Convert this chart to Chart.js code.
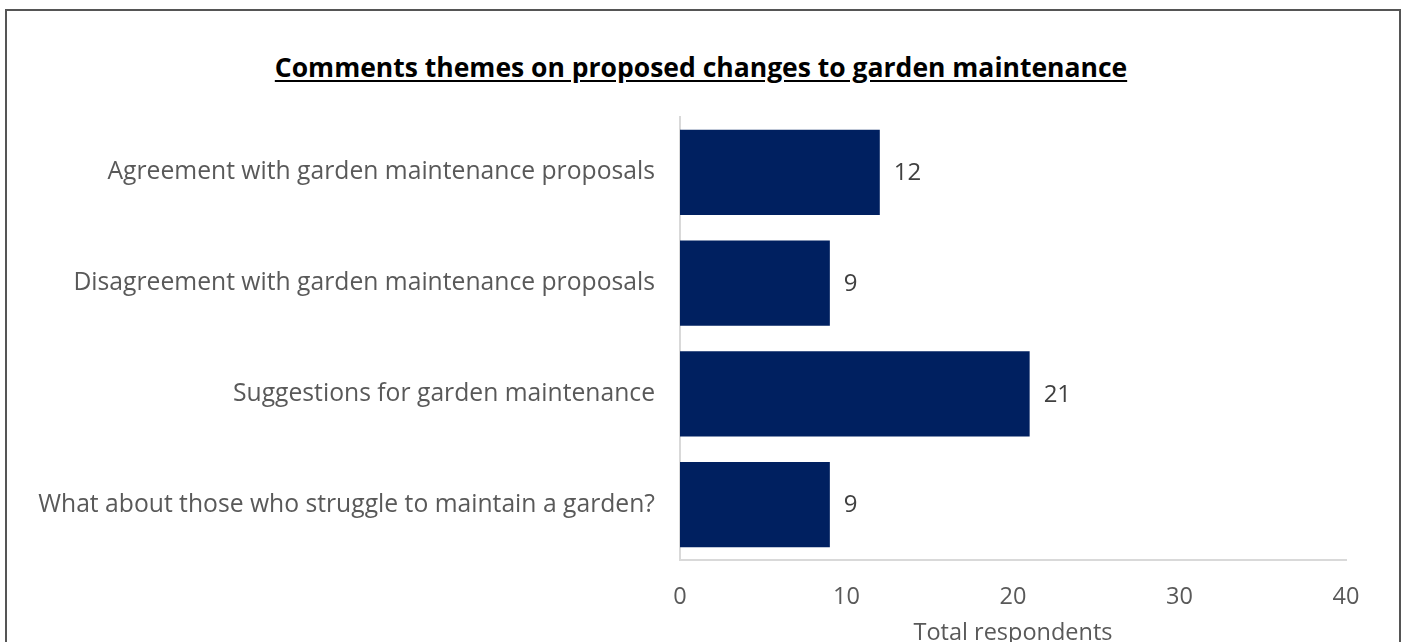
<!DOCTYPE html>
<html>
<head>
<meta charset="utf-8">
<script src="https://cdn.jsdelivr.net/npm/chart.js@4.4.1/dist/chart.umd.min.js"></script>
<style>
    html, body { margin: 0; padding: 0; background: #fff; overflow: hidden; }
    #wrap { position: relative; width: 1404px; height: 642px; }
    #frame {
        position: absolute; left: 5px; top: 9px; width: 1396px; height: 660px;
        border: 2px solid #555; box-sizing: border-box;
    }
    #title {
        position: absolute; left: 0; width: 1402px; top: 49px; text-align: center;
        font: bold 26.5px "Open Sans", Lato, sans-serif; color: #000;
        text-decoration: underline; text-underline-offset: 3px;
    }
    canvas { position: absolute; left: 0; top: 0; }
</style>
</head>
<body>
<div id="wrap">
    <div id="frame"></div>
    <div id="title">Comments themes on proposed changes to garden maintenance</div>
    <canvas id="chart" width="1404" height="642"></canvas>
</div>
<script>
// chart data
const categories = [
    'Agreement with garden maintenance proposals',
    'Disagreement with garden maintenance proposals',
    'Suggestions for garden maintenance',
    'What about those who struggle to maintain a garden?'
];
const respondents = [12, 9, 21, 9];
const axisMax = 40;
const axisStep = 10;

const FONT = '"Open Sans", Lato, sans-serif';

/** Draw the value next to the end of each bar */
const valueLabels = {
    id: 'valueLabels',
    afterDatasetsDraw(chart) {
        const ctx = chart.ctx;
        const meta = chart.getDatasetMeta(0);
        ctx.save();
        ctx.font = '24px ' + FONT;
        ctx.fillStyle = '#404040';
        ctx.textAlign = 'left';
        ctx.textBaseline = 'middle';
        meta.data.forEach((bar, i) => {
            ctx.fillText(String(respondents[i]), bar.x + 14, bar.y + 1);
        });
        ctx.restore();
    }
};

new Chart(document.getElementById('chart'), {
    type: 'bar',
    data: {
        labels: categories,
        datasets: [{
            data: respondents,
            backgroundColor: '#002060',
            borderWidth: 0,
            barPercentage: 0.77,
            categoryPercentage: 1
        }]
    },
    options: {
        indexAxis: 'y',
        responsive: false,
        animation: false,
        layout: { padding: { top: 117, right: 58, left: 0, bottom: 0 } },
        plugins: { legend: { display: false }, tooltip: { enabled: false } },
        scales: {
            x: {
                min: 0,
                max: axisMax,
                grid: { display: false, drawTicks: false },
                border: { display: true, color: '#d9d9d9', width: 2 },
                ticks: {
                    stepSize: axisStep,
                    padding: 23,
                    color: '#595959',
                    font: { family: FONT, size: 23.5 }
                },
                title: {
                    display: true,
                    text: 'Total respondents',
                    color: '#595959',
                    font: { family: FONT, size: 23.5 },
                    padding: { top: 0, bottom: -5 }
                },
                afterFit(scale) { scale.height = 82; }
            },
            y: {
                grid: { display: false, drawTicks: false },
                border: { display: true, color: '#d9d9d9', width: 2 },
                ticks: {
                    padding: 25,
                    color: '#595959',
                    font: { family: FONT, size: 24.7 }
                },
                afterFit(scale) { scale.width = 680; }
            }
        }
    },
    plugins: [valueLabels]
});
</script>
</body>
</html>
